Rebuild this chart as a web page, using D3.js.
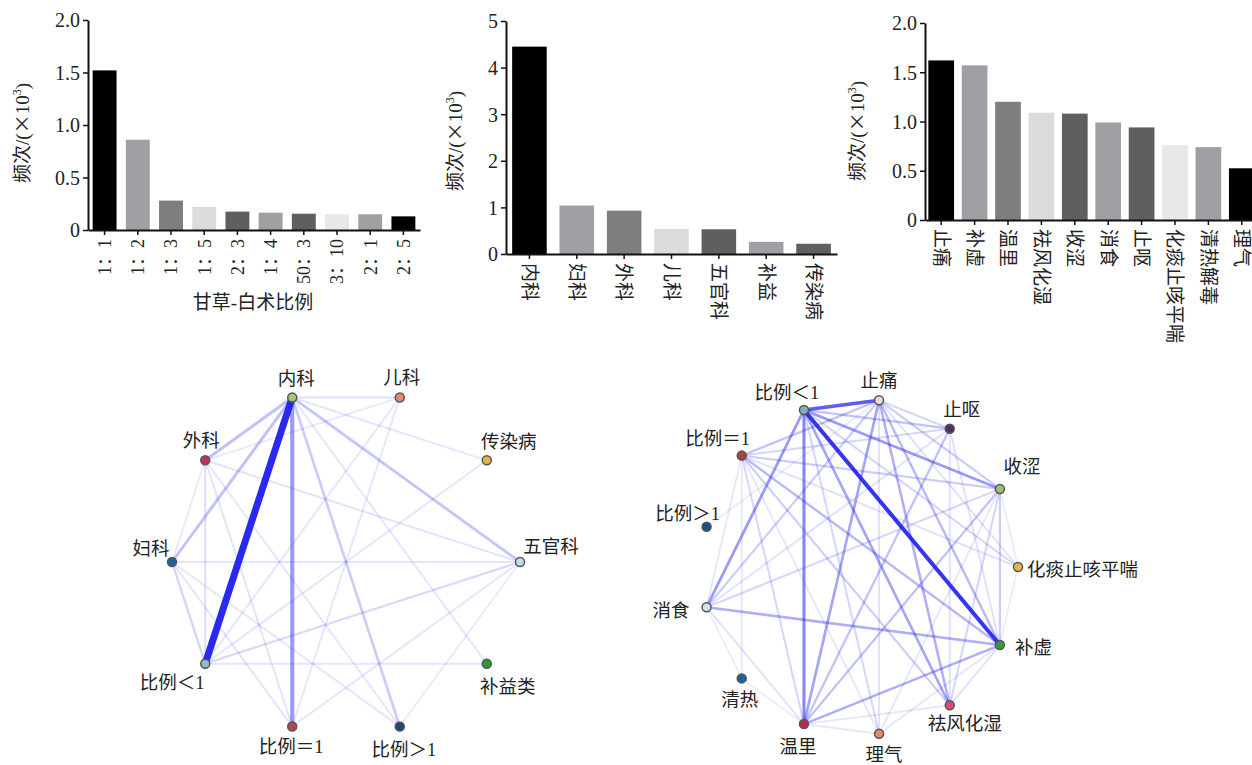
<!DOCTYPE html>
<html>
<head>
<meta charset="utf-8">
<script src="https://cdn.jsdelivr.net/npm/d3@7"></script>
<style>
body { margin: 0; background: #fff; }
text { font-family: "Liberation Serif", "Noto Sans CJK SC", serif; fill: #222; }
</style>
</head>
<body>
<div id="chart"></div>
<script>
// bar chart data (frequency, x10^3)
const ratioNames = ["1：1", "1：2", "1：3", "1：5", "2：3", "1：4", "50：3", "3：10", "2：1", "2：5"];
const ratioFreq = [1.52, 0.86, 0.28, 0.22, 0.175, 0.165, 0.155, 0.15, 0.15, 0.13];
const deptNames = ["内科", "妇科", "外科", "儿科", "五官科", "补益", "传染病"];
const deptFreq = [4.45, 1.04, 0.93, 0.54, 0.53, 0.26, 0.22];
const effectNames = ["止痛", "补虚", "温里", "祛风化湿", "收涩", "消食", "止呕", "化痰止咳平喘", "清热解毒", "理气"];
const effectFreq = [1.62, 1.57, 1.20, 1.09, 1.08, 0.99, 0.94, 0.76, 0.74, 0.525];
const ticksA = [0, 0.5, 1.0, 1.5, 2.0];
const ticksB = [0, 1, 2, 3, 4, 5];

// network data: nodes in clockwise order, links [a, b, weight]
const deptNodes = ["内科", "儿科", "传染病", "五官科", "补益类", "比例＞1", "比例＝1", "比例＜1", "妇科", "外科"];
const deptLinks = [
    ["内科", "比例＜1", 10], ["内科", "比例＝1", 5], ["内科", "外科", 3], ["内科", "妇科", 3],
    ["内科", "五官科", 2.8], ["内科", "比例＞1", 2.5], ["内科", "儿科", 1.5], ["内科", "传染病", 1.2],
    ["内科", "补益类", 1.2], ["外科", "比例＜1", 1.5], ["外科", "五官科", 1.3], ["外科", "比例＝1", 1.3],
    ["外科", "比例＞1", 1.2], ["外科", "妇科", 1], ["外科", "儿科", 1], ["妇科", "五官科", 1.3],
    ["妇科", "比例＜1", 2], ["妇科", "比例＝1", 1.3], ["妇科", "比例＞1", 1.2], ["比例＜1", "五官科", 1.8],
    ["比例＜1", "补益类", 1.2], ["比例＜1", "儿科", 1.2], ["比例＜1", "传染病", 1.2], ["比例＝1", "儿科", 1.2],
    ["比例＝1", "五官科", 1.2], ["比例＞1", "五官科", 1]
];
const effectNodes = ["化痰止咳平喘", "补虚", "祛风化湿", "理气", "温里", "清热", "消食", "比例＞1", "比例＝1", "比例＜1", "止痛", "止呕", "收涩"];
const effectLinks = [
    ["比例＜1", "补虚", 10], ["比例＜1", "止痛", 8], ["比例＜1", "温里", 6], ["比例＜1", "收涩", 5],
    ["比例＜1", "消食", 5], ["比例＜1", "祛风化湿", 4.5], ["比例＜1", "止呕", 3], ["比例＜1", "化痰止咳平喘", 2],
    ["比例＜1", "理气", 2], ["止痛", "温里", 4.5], ["止痛", "祛风化湿", 4], ["止痛", "补虚", 3.5],
    ["止痛", "收涩", 2.5], ["止痛", "消食", 2.5], ["止痛", "比例＝1", 3], ["止痛", "止呕", 2],
    ["止痛", "化痰止咳平喘", 1.5], ["止痛", "理气", 1.5], ["温里", "补虚", 4], ["温里", "收涩", 3],
    ["温里", "止呕", 3], ["温里", "比例＝1", 2], ["温里", "消食", 1.5], ["消食", "补虚", 4],
    ["消食", "收涩", 2], ["消食", "止呕", 1.5], ["比例＝1", "补虚", 3.5], ["比例＝1", "收涩", 2.5],
    ["比例＝1", "祛风化湿", 2.5], ["比例＝1", "止呕", 2], ["比例＝1", "化痰止咳平喘", 1.5], ["比例＝1", "清热", 1.2],
    ["比例＝1", "消食", 1.2], ["比例＝1", "理气", 1.2], ["收涩", "补虚", 2.5], ["收涩", "祛风化湿", 2],
    ["收涩", "理气", 1.2], ["止呕", "补虚", 1.5], ["止呕", "祛风化湿", 1.5], ["祛风化湿", "补虚", 1.5],
    ["理气", "补虚", 1.2], ["理气", "温里", 1.2], ["清热", "温里", 1], ["清热", "消食", 1],
    ["化痰止咳平喘", "补虚", 1], ["化痰止咳平喘", "收涩", 1], ["祛风化湿", "温里", 1.2], ["比例＞1", "止痛", 1]
];

// styles
const barGrays = ["#000", "#a0a0a4", "#7e7e7e", "#dcdcdc", "#5f5f5f", "#a0a0a4", "#5f5f5f", "#e8e8e8", "#a0a0a4", "#000"];
const deptColors = {
    "内科": "#a6c873", "儿科": "#e8896c", "传染病": "#e2b64c", "五官科": "#c4dbe8", "补益类": "#2e9a3c",
    "比例＞1": "#1b4a78", "比例＝1": "#c0404e", "比例＜1": "#8fbac6", "妇科": "#1f60a0", "外科": "#c3305a"
};
const effectColors = {
    "化痰止咳平喘": "#e8b456", "补虚": "#2f9e3c", "祛风化湿": "#e0487a", "理气": "#e8896a", "温里": "#c42848",
    "清热": "#1f5fa0", "消食": "#cfe3ee", "比例＞1": "#1b5080", "比例＝1": "#b4403e", "比例＜1": "#7fb2c2",
    "止痛": "#ecd6e6", "止呕": "#523062", "收涩": "#9cc372"
};
// label offsets [dx, dy, anchor]
const deptLabelPos = {
    "内科": [4, -12, "middle"], "儿科": [2, -13, "middle"], "传染病": [22, -12, "middle"],
    "五官科": [31, -9, "middle"], "补益类": [21, 29, "middle"], "比例＞1": [4, 29, "middle"],
    "比例＝1": [-1, 26, "middle"], "比例＜1": [-33, 25, "middle"], "妇科": [-21, -7, "middle"],
    "外科": [-4, -13, "middle"]
};
const effectLabelPos = {
    "化痰止咳平喘": [9, 9, "start"], "补虚": [15, 9, "start"], "祛风化湿": [15, 25, "middle"],
    "理气": [5, 27, "middle"], "温里": [-6, 29, "middle"], "清热": [-2, 28, "middle"],
    "消食": [-17, 10, "end"], "比例＞1": [-19, -7, "middle"], "比例＝1": [-24, -11, "middle"],
    "比例＜1": [-17, -11, "middle"], "止痛": [0, -13, "middle"], "止呕": [12, -13, "middle"],
    "收涩": [22, -16, "middle"]
};

const serif = '"Liberation Serif", "Noto Sans CJK SC", serif';
const width = 1252;
const height = 765;

const svg = d3.select("#chart")
    .append("svg")
    .attr("width", width)
    .attr("height", height);

svg.append("rect").attr("width", width).attr("height", height).attr("fill", "#fff");

function barChart(o) {
    const g = svg.append("g");
    const x = d3.scaleBand()
        .domain(o.names)
        .range([o.x0, o.x1])
        .paddingInner(o.pi)
        .paddingOuter(o.po);
    const y = d3.scaleLinear().domain([0, o.max]).range([o.y0, o.y1]);

    g.selectAll("rect")
        .data(o.values)
        .join("rect")
        .attr("x", (d, i) => x(o.names[i]))
        .attr("y", d => y(d))
        .attr("width", x.bandwidth())
        .attr("height", d => y(0) - y(d))
        .attr("fill", (d, i) => barGrays[i]);

    const ya = g.append("g")
        .attr("transform", `translate(${o.x0},0)`)
        .call(d3.axisLeft(y).tickValues(o.ticks).tickFormat(o.fmt).tickSize(5).tickPadding(3).tickSizeOuter(0));
    ya.selectAll("text").style("font-size", "20px").style("font-family", serif).attr("dy", "0.34em");

    const xa = g.append("g")
        .attr("transform", `translate(0,${o.y0})`)
        .call(d3.axisBottom(x).tickSize(5).tickSizeOuter(0));
    xa.selectAll("text")
        .attr("y", 0)
        .attr("x", o.rot < 0 ? -9 : 9)
        .attr("dy", "0.35em")
        .attr("transform", `rotate(${o.rot})`)
        .attr("text-anchor", o.rot < 0 ? "end" : "start")
        .style("font-family", serif)
        .style("font-size", o.labelSize + "px");

    g.selectAll(".domain").attr("stroke", "#111").attr("stroke-width", 2);
    g.selectAll(".tick line").attr("stroke", "#111").attr("stroke-width", 1.5);

    const yl = g.append("text")
        .attr("transform", `translate(${o.ylx},${o.yly}) rotate(-90)`)
        .attr("text-anchor", "middle")
        .style("font-family", serif)
        .style("font-size", "19px");
    yl.append("tspan").text("频次/(");
    yl.append("tspan").text("×").style("font-family", '"Noto Sans CJK SC"');
    yl.append("tspan").text("10");
    yl.append("tspan").text("3").style("font-size", "12px").attr("dy", -8);
    yl.append("tspan").text(")").attr("dy", 8);

    if (o.xtitle) {
        g.append("text")
            .attr("x", o.xtx)
            .attr("y", o.xty)
            .attr("text-anchor", "middle")
            .style("font-size", "19px")
            .text(o.xtitle);
    }
}

barChart({
    names: ratioNames, values: ratioFreq, ticks: ticksA, max: 2,
    fmt: d => d === 0 ? "0" : d3.format(".1f")(d),
    x0: 88, x1: 420, y0: 230, y1: 20, pi: 0.28, po: 0.14, rot: -90, labelSize: 18,
    ylx: 29, yly: 133, xtitle: "甘草-白术比例", xtx: 253, xty: 309
});
barChart({
    names: deptNames, values: deptFreq, ticks: ticksB, max: 5,
    fmt: d3.format("d"),
    x0: 506, x1: 837, y0: 254, y1: 21, pi: 0.27, po: 0.13, rot: 90, labelSize: 19,
    ylx: 462, yly: 141
});
barChart({
    names: effectNames, values: effectFreq, ticks: ticksA, max: 2,
    fmt: d => d === 0 ? "0" : d3.format(".1f")(d),
    x0: 925, x1: 1258, y0: 220, y1: 23, pi: 0.23, po: 0.1, rot: 90, labelSize: 19,
    ylx: 864, yly: 131
});

function network(o) {
    const g = svg.append("g");
    const angle = d3.scaleLinear().domain([0, o.nodes.length]).range([o.start, o.start + 2 * Math.PI]);
    const pos = {};
    o.nodes.forEach((n, i) => {
        const a = angle(i);
        pos[n] = [o.cx + o.rx * Math.cos(a), o.cy + o.ry * Math.sin(a)];
    });
    const w = d3.scaleLinear().domain([1, 10]).range(o.wRange);
    const op = d3.scaleLinear().domain([1, 5, 10]).range(o.opRange);

    const links = o.links.slice().sort((a, b) => a[2] - b[2]);
    g.selectAll("line")
        .data(links)
        .join("line")
        .attr("x1", d => pos[d[0]][0])
        .attr("y1", d => pos[d[0]][1])
        .attr("x2", d => pos[d[1]][0])
        .attr("y2", d => pos[d[1]][1])
        .attr("stroke", "#1e1ef0")
        .attr("stroke-opacity", d => op(d[2]))
        .attr("stroke-width", d => w(d[2]))
        .attr("stroke-linecap", "round");

    g.selectAll("circle")
        .data(o.nodes)
        .join("circle")
        .attr("cx", d => pos[d][0])
        .attr("cy", d => pos[d][1])
        .attr("r", 4.5)
        .attr("fill", d => o.colors[d])
        .attr("stroke", "#555")
        .attr("stroke-width", 1.5);

    g.selectAll("text")
        .data(o.nodes)
        .join("text")
        .attr("x", d => pos[d][0] + o.labels[d][0])
        .attr("y", d => pos[d][1] + o.labels[d][1])
        .attr("text-anchor", d => o.labels[d][2])
        .style("font-size", "18.5px")
        .text(d => d);
}

network({
    nodes: deptNodes, links: deptLinks, colors: deptColors, labels: deptLabelPos,
    cx: 346, cy: 562, rx: 174, ry: 173, start: -0.6 * Math.PI,
    wRange: [1.8, 7], opRange: [0.1, 0.45, 0.95]
});
network({
    nodes: effectNodes, links: effectLinks, colors: effectColors, labels: effectLabelPos,
    cx: 860, cy: 567, rx: 158, ry: 168, start: 0,
    wRange: [1.8, 4], opRange: [0.09, 0.45, 0.9]
});
</script>
</body>
</html>
